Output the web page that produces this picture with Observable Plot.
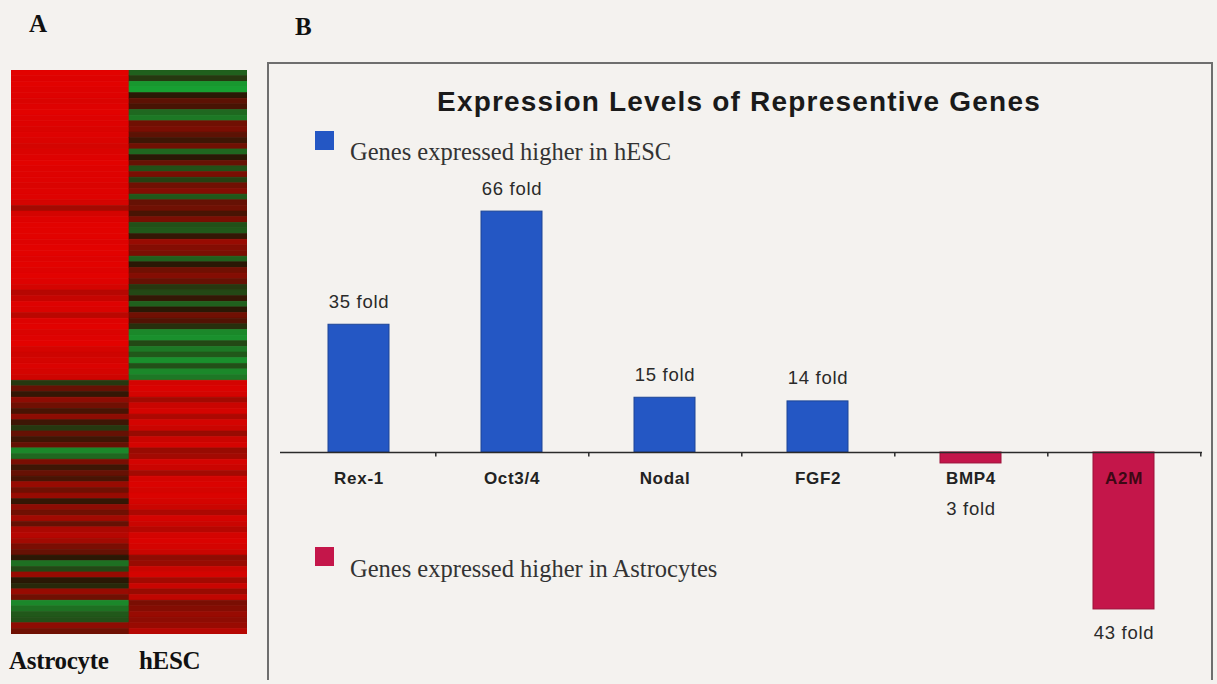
<!DOCTYPE html>
<html>
<head>
<meta charset="utf-8">
<script src="https://cdn.jsdelivr.net/npm/d3@7"></script>
<script src="https://cdn.jsdelivr.net/npm/@observablehq/plot@0.6"></script>
<style>
  html, body { margin: 0; padding: 0; }
  body { width: 1217px; height: 684px; background: #f4f2ef; position: relative; overflow: hidden; }
  .abs { position: absolute; }
  .panel { font-family: "Liberation Serif", "Times New Roman", serif; font-weight: bold; font-size: 25px; color: #111; }
  .collab { font-family: "Liberation Serif", "Times New Roman", serif; font-weight: bold; font-size: 25px; color: #111; letter-spacing: -0.3px; }
  #boxB { left: 267px; top: 62px; width: 942px; height: 616px; border: 2px solid #6e6e6e; border-bottom: none; box-sizing: content-box; }
  #title { left: 268px; width: 942px; top: 86px; text-align: center; font-family: "Liberation Sans", Arial, sans-serif; font-weight: bold; font-size: 28px; letter-spacing: 1.2px; color: #1a1a1a; }
  .legtext { font-family: "Liberation Serif", "Times New Roman", serif; font-size: 24.5px; color: #333; }
  .sq { width: 19px; height: 19px; }
  #bars text { letter-spacing: 0.7px; }
</style>
</head>
<body>
<div class="abs panel" style="left:29px; top:10px;">A</div>
<div class="abs panel" style="left:295px; top:13px;">B</div>
<div id="heat" class="abs" style="left:11px; top:70px;"></div>
<div class="abs collab" style="left:9px; top:647px;">Astrocyte</div>
<div class="abs collab" style="left:139px; top:647px;">hESC</div>
<div id="boxB" class="abs"></div>
<div id="title" class="abs">Expression Levels of Representive Genes</div>
<div id="bars" class="abs" style="left:268px; top:63px;"></div>
<div class="abs sq" style="left:315px; top:131px; background:#2457c4;"></div>
<div class="abs legtext" style="left:350px; top:138px;">Genes expressed higher in hESC</div>
<div class="abs sq" style="left:315px; top:547px; background:#c4164a;"></div>
<div class="abs legtext" style="left:350px; top:555px;">Genes expressed higher in Astrocytes</div>
<script>
// ---------- Panel A: heatmap data (log-ratio-like, + red, - green) ----------
const heatColumns = ["Astrocyte", "hESC"];
const astrocyteValues = [
  0.92,0.9,0.92,0.9,0.9,0.88,0.9,0.92,0.9,0.9,
  0.88,0.9,0.88,0.85,0.88,0.9,0.92,0.9,0.9,0.9,
  0.88,0.9,0.9,0.85,0.6,0.85,0.9,0.92,0.92,0.92,
  0.9,0.92,0.92,0.9,0.92,0.9,0.92,0.9,0.85,0.7,
  0.78,0.9,0.88,0.72,0.9,0.92,0.88,0.9,0.92,0.85,
  0.82,0.85,0.88,0.85,0.82,
  -0.2,0.3,0.05,0.5,0.35,0.15,0.5,0.1,-0.2,0.3,
  0.1,0.3,-0.7,-0.5,0.4,0.1,0.3,0.15,0.55,0.35,
  0.55,0.05,0.5,0.35,0.6,0.3,0.65,0.7,0.6,0.4,
  0.3,0.0,-0.55,-0.3,0.55,0.0,-0.1,0.55,0.35,-0.7,
  -0.55,-0.4,-0.35,0.5,0.35
];
const hescValues = [
  -0.45,-0.2,-0.8,-0.85,0.0,0.25,0.15,-0.5,-0.6,0.35,
  0.4,0.25,0.1,0.35,-0.5,0.0,0.3,-0.35,0.4,-0.25,
  0.35,0.45,-0.4,0.3,0.35,0.15,0.4,-0.35,-0.4,0.05,
  0.55,0.45,0.4,-0.45,0.0,0.35,0.45,0.3,-0.2,-0.3,
  0.05,-0.45,0.0,0.35,0.2,-0.15,-0.7,-0.75,-0.3,-0.6,
  -0.4,-0.75,-0.35,-0.7,-0.6,
  0.85,0.88,0.85,0.6,0.8,0.85,0.65,0.85,0.8,0.55,
  0.8,0.85,0.55,0.6,0.85,0.8,0.6,0.85,0.88,0.85,
  0.88,0.85,0.8,0.65,0.85,0.8,0.7,0.85,0.88,0.85,
  0.8,0.5,0.55,0.8,0.85,0.6,0.8,0.55,0.75,0.4,
  0.45,0.55,0.5,0.55,0.7
];

// ---------- Panel B: bar data ----------
const genes = ["Rex-1", "Oct3/4", "Nodal", "FGF2", "BMP4", "A2M"];
const foldValues = [35, 66, 15, 14, -3, -43];
const foldLabels = ["35 fold", "66 fold", "15 fold", "14 fold", "3 fold", "43 fold"];

const BLUE = "#2457c4", RED = "#c4164a";

// build heatmap table
const cells = [];
astrocyteValues.forEach((v, i) => cells.push({col: heatColumns[0], row: i, value: v}));
hescValues.forEach((v, i) => cells.push({col: heatColumns[1], row: i, value: v}));

const heat = Plot.plot({
  width: 236, height: 564, margin: 0,
  style: {background: "transparent"},
  x: {axis: null, domain: heatColumns, padding: 0},
  y: {axis: null, domain: d3.range(astrocyteValues.length), padding: 0},
  color: {type: "linear", domain: [-1, 0, 1], range: ["#14b83a", "#2a1805", "#f20000"], interpolate: "rgb"},
  marks: [
    Plot.cell(cells, {x: "col", y: "row", fill: "value", stroke: "value", strokeWidth: 0.6})
  ]
});
document.getElementById("heat").appendChild(heat);

// build bar table
const bars = genes.map((g, i) => ({gene: g, value: foldValues[i], label: foldLabels[i]}));

const barChart = Plot.plot({
  width: 942, height: 616,
  marginLeft: 12, marginRight: 8, marginTop: 24, marginBottom: 8,
  style: {background: "transparent", overflow: "visible"},
  x: {axis: null, domain: genes, paddingInner: 0.6, paddingOuter: 0.3},
  y: {axis: null, domain: [-60, 100], range: [608, 24]},
  color: {type: "identity"},
  marks: [
    Plot.barY(bars, {x: "gene", y: "value", fill: d => d.value > 0 ? BLUE : RED,
      stroke: d => d.value > 0 ? "#1d4596" : "#9c1039", strokeWidth: 1}),
    Plot.ruleY([0], {stroke: "#2a2a2a", strokeWidth: 1.6}),
    Plot.ruleX(bars, {x: "gene", y1: 0, y2: -1.2, dx: 76.8, stroke: "#2a2a2a", strokeWidth: 1.5}),
    Plot.text(bars, {x: "gene", y: 0, text: "gene", dy: 26, fontSize: 17, fontWeight: "bold",
      fontFamily: "Liberation Sans, Arial, sans-serif",
      fill: d => d.gene === "A2M" ? "#3d0814" : "#222222"}),
    Plot.text(bars.filter(d => d.value > 0), {x: "gene", y: "value", text: "label", dy: -23,
      fontSize: 18.5, fontFamily: "Liberation Sans, Arial, sans-serif", fill: "#2a2a2a"}),
    Plot.text(bars.filter(d => d.value < 0), {x: "gene", y: d => Math.min(d.value, -9), text: "label", dy: 24,
      fontSize: 18.5, fontFamily: "Liberation Sans, Arial, sans-serif", fill: "#2a2a2a"})
  ]
});
document.getElementById("bars").appendChild(barChart);
</script>
</body>
</html>
